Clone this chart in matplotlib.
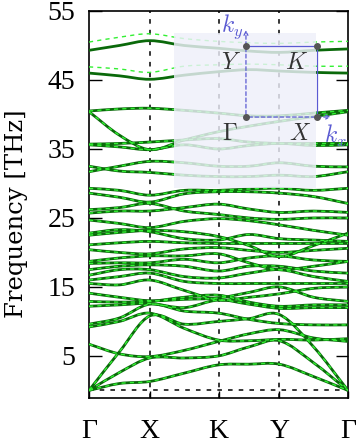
import numpy as np
import matplotlib
matplotlib.use("Agg")
import matplotlib.pyplot as plt
from matplotlib.patches import Rectangle, FancyArrowPatch, PathPatch
from matplotlib.path import Path

plt.rcParams['mathtext.fontset'] = 'cm'

# high-symmetry path
labels = ["Γ", "X", "K", "Y", "Γ"]
seg_len = [1.0, 1.13, 1.0, 1.13]
yticks = [5, 15, 25, 35, 45, 55]

# band values at Γ, mid, X, mid, K, mid, Y, mid, Γ  (THz)
bands = [
    [0, 1.0, 1.3, 2.5, 3.7, 3.8, 3.8, 2.0, 0],
    [0, 2.6, 4.7, 4.7, 5.0, 6.3, 7.2, 4.0, 0],
    [0, 5.6, 10.8, 9.6, 10.0, 10.4, 11.0, 6.3, 0],
    [6.7, 5.3, 4.9, 5.8, 7.1, 8.2, 8.8, 7.6, 7.1],
    [9.2, 10.0, 11.2, 9.0, 7.3, 7.2, 7.4, 7.3, 7.5],
    [9.6, 10.5, 12.5, 11.5, 11.2, 10.3, 9.7, 9.5, 9.5],
    [12.2, 12.4, 12.6, 12.0, 13.1, 12.5, 11.9, 12.0, 12.0],
    [12.9, 12.8, 12.9, 13.5, 13.8, 12.8, 12.2, 12.4, 12.4],
    [14.1, 13.5, 13.0, 13.2, 13.4, 14.2, 15.0, 13.5, 12.9],
    [15.5, 15.3, 16.0, 14.5, 13.1, 13.5, 14.0, 14.8, 15.0],
    [16.0, 16.5, 17.0, 15.8, 15.5, 15.5, 15.5, 15.5, 15.5],
    [16.7, 17.5, 17.5, 16.5, 16.3, 17.0, 17.5, 16.5, 15.8],
    [17.5, 18.0, 18.2, 18.0, 17.3, 18.0, 18.0, 17.3, 17.0],
    [18.4, 18.5, 18.5, 19.0, 18.5, 19.2, 19.5, 18.9, 18.7],
    [18.7, 19.2, 19.5, 19.5, 19.8, 18.5, 17.5, 18.0, 18.7],
    [20.4, 20.0, 19.8, 20.5, 20.7, 20.3, 20.0, 20.3, 20.6],
    [21.1, 21.4, 21.6, 21.4, 21.3, 21.3, 21.3, 21.3, 21.3],
    [22.5, 22.9, 23.2, 23.0, 22.3, 21.0, 19.4, 21.0, 22.8],
    [22.8, 23.3, 23.0, 22.0, 21.8, 22.6, 22.0, 21.8, 21.6],
    [24.7, 24.2, 23.6, 24.5, 24.9, 24.6, 24.0, 23.2, 22.5],
    [25.7, 26.0, 26.0, 26.5, 27.0, 26.3, 25.8, 26.0, 25.8],
    [26.2, 26.5, 27.1, 26.0, 25.5, 25.0, 24.8, 25.0, 25.0],
    [28.6, 28.0, 27.3, 28.5, 28.8, 28.8, 28.6, 28.1, 27.1],
    [29.3, 29.0, 28.3, 29.0, 29.0, 29.2, 29.3, 29.0, 29.3],
    [31.7, 32.5, 33.2, 33.0, 32.5, 32.5, 33.0, 32.5, 32.4],
    [32.5, 31.8, 31.6, 31.2, 31.0, 31.0, 31.2, 31.0, 31.7],
    [35.6, 35.3, 34.9, 35.6, 35.0, 35.5, 35.8, 35.5, 35.6],
    [35.7, 35.8, 36.0, 36.3, 36.5, 36.0, 35.8, 35.8, 35.8],
    [40.4, 37.0, 34.9, 36.3, 37.5, 38.3, 39.0, 39.7, 40.4],
    [40.5, 40.8, 40.9, 40.6, 40.2, 39.8, 39.8, 40.2, 40.6],
    [46.0, 45.6, 45.1, 45.7, 46.2, 46.5, 46.3, 46.1, 46.0],
    [49.3, 50.0, 50.7, 50.0, 49.6, 49.2, 49.0, 49.3, 49.5],
]
# second data set (dashed); differs only in the two highest bands
bands_ref_top = [
    [46.9, 46.6, 46.1, 47.0, 47.2, 47.3, 47.2, 47.0, 47.0],
    [50.5, 51.2, 51.7, 51.0, 50.6, 50.4, 50.3, 50.5, 50.6],
]

ticks = np.concatenate([[0], np.cumsum(seg_len)])
q = np.empty(2 * len(ticks) - 1)
q[0::2] = ticks
q[1::2] = 0.5 * (ticks[:-1] + ticks[1:])


def smooth_path(x, y):
    """Cubic Bezier path passing through the data points (Catmull-Rom tangents)."""
    x = np.asarray(x, float)
    y = np.asarray(y, float)
    n = len(x)
    m = np.empty(n)
    m[1:-1] = (y[2:] - y[:-2]) / (x[2:] - x[:-2])
    m[0] = (y[1] - y[0]) / (x[1] - x[0])
    m[-1] = (y[-1] - y[-2]) / (x[-1] - x[-2])
    verts = [(x[0], y[0])]
    codes = [Path.MOVETO]
    for i in range(n - 1):
        h = x[i + 1] - x[i]
        verts += [(x[i] + h / 3, y[i] + m[i] * h / 3),
                  (x[i + 1] - h / 3, y[i + 1] - m[i + 1] * h / 3),
                  (x[i + 1], y[i + 1])]
        codes += [Path.CURVE4] * 3
    return Path(verts, codes)


fig = plt.figure(figsize=(3.59, 4.43), dpi=100)
ax = fig.add_axes([89 / 359, 45 / 443, 259 / 359, 387 / 443])

solid_c = '#0a690a'
dash_c = '#33f033'
for b in bands:
    ax.add_patch(PathPatch(smooth_path(q, b), facecolor='none', edgecolor=solid_c,
                           lw=2.0, zorder=3, capstyle='round'))
ref = [list(b) for b in bands]
ref[-2] = bands_ref_top[0]
ref[-1] = bands_ref_top[1]
for b in ref:
    ax.add_patch(PathPatch(smooth_path(q, b), facecolor='none', edgecolor=dash_c,
                           lw=1.0, linestyle=(0, (3, 3)), zorder=4))

for t in ticks[1:-1]:
    ax.axvline(t, color='black', lw=1.1, dashes=(3, 4), zorder=1)
ax.axhline(0, color='black', lw=1.1, dashes=(3, 4), zorder=1)

ax.set_xlim(ticks[0], ticks[-1])
ax.set_ylim(-1.1, 55)
ax.set_xticks(ticks)
ax.set_xticklabels(labels, family='Liberation Serif', fontsize=20)
ax.set_yticks(yticks)
ax.set_yticklabels([str(v) for v in yticks], family='Liberation Serif', fontsize=20)
ax.tick_params(axis='y', direction='in', length=9, width=1, right=True, pad=10)
ax.tick_params(axis='x', direction='in', length=5, width=1, pad=15)
for s in ax.spines.values():
    s.set_linewidth(1.2)
ax.set_ylabel("Frequency [THz]", family='DejaVu Serif', fontsize=17.5)
ax.yaxis.set_label_coords(-0.235, 0.475)

# inset: Brillouin zone sketch
T = ax.transAxes
ax.add_patch(Rectangle((0.328, 0.543), 0.548, 0.40, transform=T,
                       facecolor='#eef0fa', edgecolor='none', alpha=0.82, zorder=6))
G = (0.606, 0.726); Xp = (0.880, 0.726); Kp = (0.880, 0.910); Yp = (0.606, 0.910)
bc = '#5a5ad2'
ax.plot([Yp[0], Kp[0], Xp[0]], [Yp[1], Kp[1], Xp[1]], color=bc, lw=0.9, transform=T, zorder=7)
ax.add_patch(FancyArrowPatch(G, (0.945, 0.726), transform=T, arrowstyle='->', mutation_scale=7,
                             color=bc, lw=0.9, linestyle=(0, (3, 2)), zorder=7))
ax.add_patch(FancyArrowPatch(G, (0.606, 0.958), transform=T, arrowstyle='->', mutation_scale=7,
                             color=bc, lw=0.9, linestyle=(0, (3, 2)), zorder=7))
for p in (G, Xp, Kp, Yp):
    ax.plot(*p, 'o', ms=4, color='#555555', transform=T, zorder=8)
tc = '#333333'
ax.text(0.548, 0.868, '$Y$', transform=T, fontsize=17, color=tc, ha='center', va='center', zorder=9)
ax.text(0.803, 0.868, '$K$', transform=T, fontsize=17, color=tc, ha='center', va='center', zorder=9)
ax.text(0.544, 0.685, r'$\Gamma$', transform=T, fontsize=17, color=tc, ha='center', va='center', zorder=9)
ax.text(0.815, 0.685, '$X$', transform=T, fontsize=17, color=tc, ha='center', va='center', zorder=9)
ax.text(0.552, 0.960, '$k_y$', transform=T, fontsize=17, color=bc, ha='center', va='center', zorder=9)
ax.text(0.950, 0.678, '$k_x$', transform=T, fontsize=17, color=bc, ha='center', va='center', zorder=9)

fig.savefig('out.png', dpi=100)
